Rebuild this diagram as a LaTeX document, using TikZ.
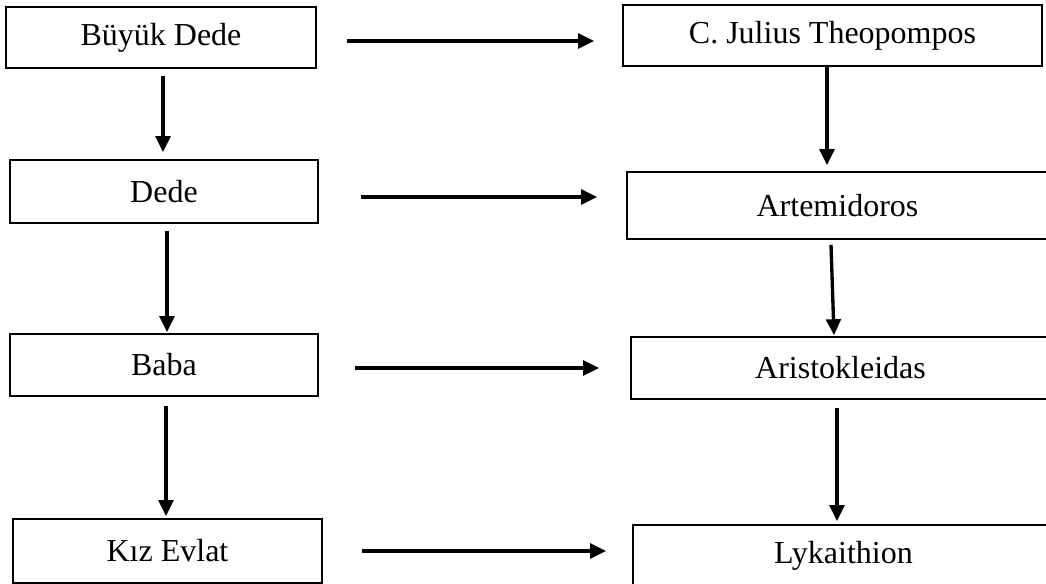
\documentclass[tikz,border=0pt]{standalone}
\usepackage{fontspec}
\setmainfont{Liberation Serif}
\usetikzlibrary{arrows.meta}
\begin{document}
\begin{tikzpicture}[x=0.75pt,y=-0.75pt,
  box/.style={draw, line width=1.2pt, inner sep=0pt, font=\fontsize{24}{28}\selectfont},
  arr/.style={line width=2.5pt, -{Triangle[width=11pt,length=12pt]}}]
\useasboundingbox (0,0) rectangle (1046,584);
% left column
\node[box, minimum width=232.5pt, minimum height=45.75pt] (bd) at (161,37.5) {Büyük Dede};
\node[box, minimum width=231pt, minimum height=47.25pt] (de) at (164,191.5) {Dede};
\node[box, minimum width=231pt, minimum height=46.5pt] (ba) at (164,365) {Baba};
\node[box, minimum width=231.75pt, minimum height=48pt] (ke) at (167.5,551) {Kız Evlat};
% right column
\node[box, minimum width=314.25pt, minimum height=45.75pt] (cj) at (832.5,35.5) {C. Julius Theopompos};
\node[box, minimum width=315.75pt, minimum height=50.25pt] (ar) at (837.5,205.5) {Artemidoros};
\node[box, minimum width=314.25pt, minimum height=46.5pt] (as) at (840.5,368) {Aristokleidas};
\node[box, minimum width=315.75pt, minimum height=46.5pt] (ly) at (843.5,556) {Lykaithion};
% horizontal arrows
\draw[arr] ([shift={(30,3.5)}]bd.east) -- ([shift={(-28,5.5)}]cj.west);
\draw[arr] ([shift={(42,5.5)}]de.east) -- ([shift={(-29,-8.5)}]ar.west);
\draw[arr] ([shift={(36,3)}]ba.east) -- ([shift={(-31,0)}]as.west);
\draw[arr] ([shift={(39,0)}]ke.east) -- ([shift={(-26,-5)}]ly.west);
% vertical arrows left
\draw[arr] ([shift={(2,7)}]bd.south) -- ([shift={(-1,-7)}]de.north);
\draw[arr] ([shift={(3,7)}]de.south) -- ([shift={(3,-1)}]ba.north);
\draw[arr] ([shift={(2,9)}]ba.south) -- ([shift={(-1.5,-2)}]ke.north);
% vertical arrows right
\draw[arr] ([shift={(-5.5,0)}]cj.south) -- ([shift={(-10.5,-6)}]ar.north);
\draw[arr] ([shift={(-6.5,5)}]ar.south) -- ([shift={(-6.5,-1)}]as.north);
\draw[arr] ([shift={(-3.5,8)}]as.south) -- ([shift={(-6.5,-3)}]ly.north);
\end{tikzpicture}
\end{document}
